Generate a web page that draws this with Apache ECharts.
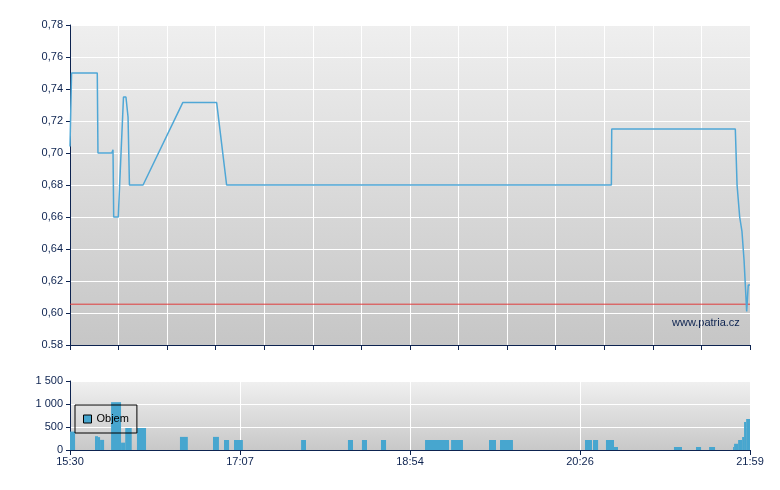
<!DOCTYPE html>
<html>
<head>
<meta charset="utf-8">
<script src="https://cdn.jsdelivr.net/npm/echarts@6/dist/echarts.min.js"></script>
<style>
html,body{margin:0;padding:0;background:#fff;}
#c{width:780px;height:490px;}
</style>
</head>
<body>
<div id="c"></div>
<script>
// x values are minutes after 15:30 (axis spans 15:30 .. 21:59)
const timeLabels = ['15:30', '17:07', '18:54', '20:26', '21:59'];
const priceTickLabels = ['0.58', '0,60', '0,62', '0,64', '0,66', '0,68', '0,70', '0,72', '0,74', '0,76', '0,78'];
const volTickLabels = ['0', '500', '1 000', '1 500'];

const priceTime  = [0, 0.9, 15.6, 16.0, 23.9, 24.6, 25.0, 27.6, 30.6, 32.0, 33.2, 34.0, 41.8, 64.5, 83.9, 89.6, 309.7, 309.9, 380.6, 381.6, 382.3, 383.1, 384.4, 385.6, 386.6, 387.1, 387.6, 388.0, 389];
const priceValue = [0.704, 0.75, 0.75, 0.70, 0.70, 0.702, 0.66, 0.66, 0.735, 0.735, 0.7225, 0.68, 0.68, 0.7315, 0.7315, 0.68, 0.68, 0.715, 0.715, 0.68, 0.68, 0.66, 0.651, 0.633, 0.632, 0.601, 0.601, 0.6175, 0.6175];
const prevClose = 0.6055;

const volStart = [0, 14.3, 16.0, 17.2, 23.5, 29.2, 31.6, 38.3, 62.9, 81.8, 88.1, 93.8, 132.2, 159.0, 167.0, 177.9, 203.1, 218.0, 239.7, 246.0, 294.6, 299.2, 306.6, 311.2, 345.5, 358.1, 365.6, 379.3, 379.9, 382.2, 384.5, 385.6, 386.8];
const volEnd   = [2.9, 16.0, 17.2, 19.5, 29.2, 31.6, 35.3, 43.5, 67.4, 85.2, 91.0, 98.9, 135.0, 161.9, 169.9, 180.8, 216.8, 224.8, 243.7, 253.4, 298.6, 302.1, 311.2, 313.5, 350.1, 361.0, 369.0, 379.9, 382.2, 384.5, 385.6, 386.8, 389];
const volValue = [400, 300, 280, 220, 1040, 160, 478, 478, 285, 285, 217, 217, 217, 217, 217, 217, 217, 217, 217, 217, 217, 217, 217, 65, 65, 65, 65, 65, 135, 217, 283, 609, 674];

const X_MAX = 389;
const NAVY = '#0d2350';
const FONT = 'Liberation Sans, Arial, sans-serif';

const volData = volStart.map((s, i) => [s, volEnd[i], volValue[i]]);
const priceData = priceTime.map((t, i) => [t, priceValue[i]]);
const closeData = [[0, prevClose], [X_MAX, prevClose]];

function bg(top, bottom) {
  return new echarts.graphic.LinearGradient(0, 0, 0, 1, [
    { offset: 0, color: top }, { offset: 1, color: bottom }
  ]);
}

const chart = echarts.init(document.getElementById('c'), null, { renderer: 'canvas' });
chart.setOption({
  animation: false,
  backgroundColor: '#ffffff',
  textStyle: { fontFamily: FONT },
  grid: [
    { left: 70, right: 30, top: 25, height: 320, show: true, borderWidth: 0, backgroundColor: bg('#efefef', '#c6c6c6') },
    { left: 70, right: 30, top: 381, height: 69, show: true, borderWidth: 0, backgroundColor: bg('#f0f0f0', '#c8c8c8') }
  ],
  legend: {
    data: ['Objem'],
    left: 75, top: 405,
    orient: 'horizontal',
    padding: [7, 8, 7, 8],
    borderColor: '#000', borderWidth: 1, borderRadius: 0,
    backgroundColor: 'transparent',
    itemWidth: 8, itemHeight: 8,
    itemGap: 5,
    icon: 'rect',
    itemStyle: { borderColor: '#000', borderWidth: 1 },
    textStyle: { fontSize: 11, color: '#000', fontFamily: FONT, lineHeight: 14 }
  },
  xAxis: [
    {
      type: 'value', gridIndex: 0, min: 0, max: X_MAX, interval: X_MAX / 14,
      axisLine: { show: true, lineStyle: { color: NAVY, width: 1 } },
      axisTick: { show: true, length: 5, lineStyle: { color: NAVY } },
      axisLabel: { show: false },
      splitLine: { show: true, lineStyle: { color: '#ffffff', width: 1 } }
    },
    {
      type: 'value', gridIndex: 1, min: 0, max: X_MAX, interval: X_MAX / 4,
      axisLine: { show: true, lineStyle: { color: NAVY, width: 1 } },
      axisTick: { show: true, length: 5, lineStyle: { color: NAVY } },
      axisLabel: {
        show: true, color: NAVY, fontSize: 11, fontFamily: FONT, margin: 6,
        formatter: v => timeLabels[Math.round(v / (X_MAX / 4))] || ''
      },
      splitLine: { show: true, lineStyle: { color: '#ffffff', width: 1 } }
    }
  ],
  yAxis: [
    {
      type: 'value', gridIndex: 0, min: 0.58, max: 0.78, interval: 0.02,
      axisLine: { show: true, lineStyle: { color: NAVY, width: 1 } },
      axisTick: { show: true, length: 4, lineStyle: { color: NAVY } },
      axisLabel: {
        color: NAVY, fontSize: 11, fontFamily: FONT, margin: 7,
        formatter: v => priceTickLabels[Math.round((v - 0.58) / 0.02)] || ''
      },
      splitLine: { show: true, lineStyle: { color: '#ffffff', width: 1 } }
    },
    {
      type: 'value', gridIndex: 1, min: 0, max: 1500, interval: 500,
      axisLine: { show: true, lineStyle: { color: NAVY, width: 1 } },
      axisTick: { show: true, length: 4, lineStyle: { color: NAVY } },
      axisLabel: {
        color: NAVY, fontSize: 11, fontFamily: FONT, margin: 7,
        formatter: v => volTickLabels[Math.round(v / 500)] || ''
      },
      splitLine: { show: true, lineStyle: { color: '#ffffff', width: 1 } }
    }
  ],
  graphic: [
    {
      type: 'text', left: 672, top: 317, silent: true,
      style: { text: 'www.patria.cz', fill: NAVY, font: '11px ' + FONT }
    }
  ],
  series: [
    {
      name: 'Predchozi', type: 'line', xAxisIndex: 0, yAxisIndex: 0,
      data: closeData, showSymbol: false, symbol: 'none',
      lineStyle: { color: '#e03c3c', width: 1 },
      itemStyle: { color: '#e03c3c' },
      z: 2, silent: true
    },
    {
      name: 'Cena', type: 'line', xAxisIndex: 0, yAxisIndex: 0,
      data: priceData, showSymbol: false, symbol: 'none',
      lineStyle: { color: '#4fa7d6', width: 1.5 },
      itemStyle: { color: '#4fa7d6' },
      z: 3
    },
    {
      name: 'Objem', type: 'custom', xAxisIndex: 1, yAxisIndex: 1,
      data: volData,
      encode: { x: [0, 1], y: 2 },
      itemStyle: { color: '#47a6cf' },
      renderItem: function (params, api) {
        const s = api.coord([api.value(0), 0]);
        const e = api.coord([api.value(1), api.value(2)]);
        return {
          type: 'rect',
          shape: { x: s[0], y: e[1], width: e[0] - s[0], height: s[1] - e[1] },
          style: api.style({ fill: '#47a6cf', stroke: null })
        };
      }
    }
  ]
});
</script>
</body>
</html>
